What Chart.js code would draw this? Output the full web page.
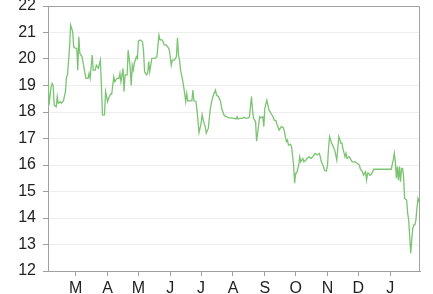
<!DOCTYPE html>
<html>
<head>
<meta charset="utf-8">
<script src="https://cdn.jsdelivr.net/npm/chart.js@4/dist/chart.umd.min.js"></script>
<style>
  html, body { margin: 0; padding: 0; background: #fff; }
  #wrap { width: 433px; height: 294px; position: relative; }
</style>
</head>
<body>
<div id="wrap"><canvas id="myChart"></canvas></div>
<script>
// day index counted from 1 Feb
const days = [
  1, 2, 4, 5, 6, 7, 9, 10, 11, 13, 14, 16, 18, 19, 20, 22, 23, 25, 26, 28,
  29, 30, 31, 32, 34, 35, 37, 38, 40, 41, 42, 44, 45, 47, 48, 50, 52, 53, 54, 56,
  57, 59, 60, 62, 63, 65, 66, 68, 70, 71, 72, 74, 75, 76, 78, 79, 81, 82, 83, 84,
  85, 87, 88, 89, 91, 93, 94, 95, 97, 98, 99, 100, 102, 103, 105, 107, 108, 109, 110, 112,
  113, 114, 116, 118, 119, 120, 121, 122, 124, 125, 126, 127, 128, 129, 130, 132, 133, 134, 135, 136,
  137, 139, 141, 142, 143, 145, 146, 147, 148, 150, 151, 152, 154, 155, 157, 158, 159, 161, 162, 164,
  165, 167, 169, 170, 172, 173, 175, 177, 179, 182, 184, 185, 186, 188, 190, 192, 194, 196, 197, 199,
  200, 201, 203, 204, 206, 207, 208, 210, 211, 212, 214, 215, 216, 218, 220, 221, 223, 224, 226, 228,
  230, 231, 232, 233, 234, 235, 237, 238, 240, 241, 242, 243, 245, 246, 247, 249, 250, 252, 253, 255,
  257, 258, 260, 261, 263, 265, 266, 267, 269, 270, 272, 273, 274, 275, 277, 278, 279, 280, 282, 283,
  284, 286, 287, 288, 290, 291, 292, 294, 295, 297, 299, 300, 302, 304, 305, 307, 308, 310, 311, 312,
  313, 314, 315, 317, 318, 335, 337, 338, 339, 340, 341, 342, 343, 344, 345, 346, 347, 348, 350, 351,
  352, 353, 354, 355, 356, 357, 358, 359, 360, 361, 362, 363
];
const values = [
  19.33, 18.26, 18.96, 19.08, 19.0, 18.26, 18.2, 18.58, 18.33, 18.39, 18.33, 18.42, 18.77, 19.33, 19.4, 20.46, 21.28, 21.03, 20.46, 20.4,
  20.4, 19.58, 20.84, 20.21, 20.09, 19.9, 19.46, 19.27, 19.27, 19.46, 19.27, 20.15, 19.58, 19.58, 19.77, 19.65, 19.96, 18.95, 17.89, 17.89,
  18.77, 18.39, 18.52, 18.68, 18.68, 19.33, 19.14, 19.27, 19.27, 19.46, 19.14, 19.65, 18.77, 19.4, 19.4, 20.34, 19.65, 19.0, 19.77, 19.58,
  19.84, 20.09, 20.02, 20.68, 20.72, 20.65, 20.28, 19.52, 19.4, 19.46, 19.9, 19.52, 20.02, 20.02, 20.02, 20.09, 20.53, 20.9, 20.72, 20.72,
  20.65, 20.53, 20.53, 20.43, 20.34, 20.09, 19.77, 19.96, 19.96, 20.02, 20.09, 20.8, 20.15, 19.96, 19.58, 19.2, 18.96, 18.7, 18.39, 18.7,
  18.42, 18.42, 18.42, 18.83, 18.42, 18.39, 18.08, 17.63, 17.23, 17.57, 17.89, 17.7, 17.45, 17.2, 17.38, 17.76, 18.14, 18.52, 18.64, 18.83,
  18.64, 18.58, 18.39, 18.14, 17.91, 17.85, 17.82, 17.78, 17.78, 17.76, 17.74, 17.82, 17.74, 17.76, 17.76, 17.8, 17.76, 17.78, 17.82, 18.58,
  18.08, 17.76, 17.63, 16.9, 17.51, 17.82, 17.78, 17.82, 17.45, 18.14, 18.45, 18.26, 18.08, 17.95, 17.82, 17.7, 17.66, 17.51, 17.32, 17.45,
  17.41, 17.26, 17.07, 16.88, 16.94, 16.75, 16.78, 16.69, 16.0, 15.31, 15.69, 15.69, 16.0, 16.31, 16.12, 16.25, 16.12, 16.19, 16.25, 16.31,
  16.25, 16.28, 16.38, 16.44, 16.38, 16.44, 16.31, 16.12, 15.94, 15.81, 15.77, 16.0, 16.63, 17.07, 16.82, 16.75, 16.63, 16.57, 16.19, 16.63,
  17.07, 16.82, 16.82, 16.63, 16.31, 16.44, 16.25, 16.31, 16.25, 16.12, 16.12, 16.12, 16.06, 16.0, 15.84, 15.75, 15.62, 15.75, 15.43, 15.69,
  15.69, 15.62, 15.62, 15.75, 15.84, 15.84, 16.19, 16.44, 16.12, 15.5, 15.94, 15.43, 15.94, 15.37, 15.87, 15.87, 15.56, 14.74, 14.68, 14.18,
  13.92, 13.29, 12.67, 13.2, 13.61, 13.74, 13.74, 13.92, 14.37, 14.74, 14.62, 14.53
];
const monthStarts = [28, 59, 89, 120, 150, 181, 212, 242, 273, 303, 334];
const monthLabels = ['M', 'A', 'M', 'J', 'J', 'A', 'S', 'O', 'N', 'D', 'J'];
const yTicks = [12, 13, 14, 15, 16, 17, 18, 19, 20, 21, 22];

const points = days.map((d, i) => ({ x: d, y: values[i] }));

// box around plot area (top and right sides)
const frame = {
  id: 'frame',
  afterDraw(chart) {
    const { ctx, chartArea: a } = chart;
    ctx.save();
    ctx.strokeStyle = '#a0a0a0';
    ctx.lineWidth = 1;
    ctx.beginPath();
    ctx.moveTo(a.left, a.top + 0.5);
    ctx.lineTo(a.right - 0.5, a.top + 0.5);
    ctx.lineTo(a.right - 0.5, a.bottom);
    ctx.stroke();
    ctx.restore();
  }
};

new Chart(document.getElementById('myChart'), {
  type: 'line',
  data: {
    datasets: [{
      data: points,
      borderColor: '#7ac472',
      borderWidth: 1.3,
      pointRadius: 0,
      tension: 0,
      fill: false
    }]
  },
  options: {
    responsive: true,
    maintainAspectRatio: false,
    animation: false,
    layout: { padding: { top: 0, right: 13, left: 0, bottom: 0 } },
    plugins: { legend: { display: false }, tooltip: { enabled: false } },
    scales: {
      x: {
        type: 'linear',
        min: 1,
        max: 363,
        afterBuildTicks: (axis) => { axis.ticks = monthStarts.map(v => ({ value: v })); },
        afterFit: (axis) => { axis.height = 23; },
        ticks: {
          autoSkip: false,
          maxRotation: 0,
          padding: 3,
          color: '#222',
          font: { family: 'Liberation Sans, Arial, sans-serif', size: 16 },
          callback: (v) => monthLabels[monthStarts.indexOf(v)]
        },
        grid: { drawOnChartArea: false, tickLength: 5, tickColor: '#a0a0a0' },
        border: { color: '#a0a0a0', width: 1 }
      },
      y: {
        min: 12,
        max: 22,
        afterBuildTicks: (axis) => { axis.ticks = yTicks.map(v => ({ value: v })); },
        afterFit: (axis) => { axis.width = 48; axis.paddingTop = 6; axis.paddingBottom = 6; },
        ticks: {
          padding: 7,
          color: '#222',
          font: { family: 'Liberation Sans, Arial, sans-serif', size: 16 }
        },
        grid: { color: '#eeeeee', tickLength: 5, tickColor: '#a0a0a0' },
        border: { color: '#a0a0a0', width: 1 }
      }
    }
  },
  plugins: [frame]
});
</script>
</body>
</html>
